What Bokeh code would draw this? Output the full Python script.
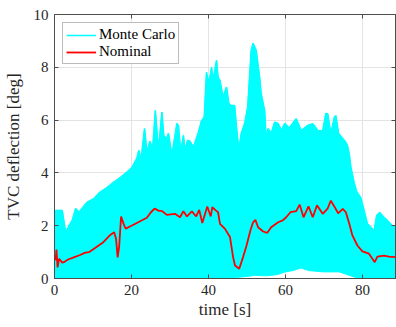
from bokeh.plotting import figure
from bokeh.models import LinearAxis, FixedTicker, Range1d, Legend, CustomLabelingPolicy
from bokeh.embed import file_html
from bokeh.resources import INLINE

# ---- data ----
x_ticks = [0, 20, 40, 60, 80]
y_ticks = [0, 2, 4, 6, 8, 10]

# Monte Carlo envelope (upper)
mc_t_up = [0.0, 0.3, 2.0, 2.9, 3.8, 4.6, 5.5, 6.4, 7.7, 8.5, 10.2, 11.5, 13.2, 15.4, 16.7,
           18.8, 20.1, 21.4, 21.9, 22.5, 23.4, 24.0, 24.8, 25.5, 26.2, 27.0, 27.9, 28.4,
           29.2, 29.6, 30.5, 31.8, 32.2, 32.8, 33.5, 33.9, 34.6, 35.2, 36.1, 37.4, 38.2,
           38.9, 39.5, 40.1, 40.8, 41.2, 42.1, 42.5, 43.0, 43.8, 44.7, 45.3, 46.0, 46.8,
           47.2, 47.9, 48.5, 49.4, 50.2, 51.1, 51.6, 52.4, 53.3, 53.7, 54.6, 55.0, 55.5,
           56.3, 57.2, 58.1, 59.0, 59.8, 61.0, 62.0, 62.8, 64.1, 65.8, 67.1, 68.5, 69.7,
           70.5, 71.0, 71.8, 72.7, 73.1, 73.8, 74.9, 75.5, 76.1, 76.6, 77.0, 77.9, 78.5,
           79.6, 80.4, 81.3, 82.5, 83.0, 83.7, 84.5, 85.6, 86.5, 87.8, 88.6]
mc_upper = [2.5, 2.58, 2.58, 1.75, 2.0, 2.2, 2.65, 2.51, 2.76, 2.89, 3.02, 3.23, 3.4, 3.65, 3.78,
            4.03, 4.2, 4.55, 4.85, 4.5, 5.68, 4.8, 5.2, 4.9, 6.36, 4.85, 6.3, 5.4,
            5.3, 5.5, 4.66, 5.87, 5.8, 4.78, 5.42, 4.85, 5.23, 5.2, 4.97, 5.54, 5.98,
            6.11, 7.81, 7.37, 8.0, 7.5, 8.26, 7.62, 7.5, 6.87, 7.25, 6.62, 6.55, 6.55,
            5.87, 4.85, 5.48, 5.87, 6.49, 8.64, 8.91, 8.64, 7.62, 7.0, 6.36, 5.3, 5.68,
            5.5, 5.92, 5.87, 5.6, 5.88, 5.7, 5.9, 6.05, 5.6, 5.8, 5.86, 5.6, 5.6,
            6.25, 6.24, 5.48, 6.1, 6.17, 5.5, 5.3, 5.2, 5.04, 4.7, 4.22, 3.6, 3.3,
            3.05, 2.6, 2.07, 1.9, 1.75, 2.39, 2.5, 2.32, 2.2, 2.0, 2.0]

# Monte Carlo envelope (lower)
mc_t_low = [0.0, 44.0, 45.0, 48.0, 50.0, 52.0, 55.0, 58.0, 60.0, 62.0, 64.0, 66.0, 70.0,
            74.0, 76.0, 78.0, 80.0, 88.6]
mc_lower = [0.0, 0.0, 0.03, 0.05, 0.08, 0.12, 0.1, 0.15, 0.25, 0.3, 0.4, 0.3, 0.25,
            0.25, 0.15, 0.05, 0.0, 0.0]

# Nominal trajectory
nom_t = [0.0, 0.3, 0.5, 0.8, 1.2, 2.0, 2.5, 3.5, 5.0, 6.5, 8.0, 9.0, 10.0, 11.0, 12.5,
         13.5, 14.5, 15.5, 16.0, 16.4, 16.8, 17.3, 18.0, 18.5, 20.0, 22.0, 24.0, 25.0,
         26.0, 27.0, 28.0, 29.2, 31.3, 32.6, 33.5, 34.4, 35.7, 36.8, 37.6, 38.4, 39.7,
         40.6, 41.0, 41.9, 42.5, 43.0, 44.3, 45.6, 46.4, 46.9, 48.0, 49.0, 49.9, 50.9,
         51.6, 52.2, 52.9, 54.2, 55.3, 56.3, 58.1, 59.3, 60.2, 61.3, 62.8, 63.7, 64.7,
         66.0, 67.1, 68.2, 69.7, 71.0, 71.8, 72.7, 73.7, 74.9, 75.7, 76.6, 77.4, 78.7,
         80.0, 81.7, 82.6, 83.2, 83.9, 85.6, 86.9, 88.6]
nom_v = [0.78, 0.7, 1.1, 0.42, 0.75, 0.6, 0.62, 0.72, 0.8, 0.88, 0.98, 1.0, 1.1, 1.2, 1.35,
         1.5, 1.65, 1.75, 1.5, 0.8, 1.2, 2.35, 2.05, 1.89, 2.0, 2.15, 2.3, 2.5,
         2.65, 2.57, 2.55, 2.41, 2.45, 2.32, 2.55, 2.35, 2.54, 2.35, 2.6, 2.1, 2.73,
         2.35, 2.7, 2.58, 2.51, 2.07, 1.88, 1.57, 0.81, 0.49, 0.37, 0.81, 1.25, 1.82,
         2.13, 2.22, 1.94, 1.78, 1.73, 1.94, 2.13, 2.2, 2.32, 2.51, 2.55, 2.8, 2.32,
         2.73, 2.32, 2.77, 2.45, 2.66, 2.95, 2.73, 2.47, 2.64, 2.51, 2.07, 1.63, 1.25,
         1.03, 0.94, 0.75, 0.62, 0.83, 0.87, 0.83, 0.81]

# ---- styling ----
FONT = "Liberation Serif"
AXC = "#4d4d4d"
CYAN = "#00ffff"
RED = "#ff0000"

p = figure(width=396, height=327, output_backend="svg", toolbar_location=None,
           x_range=Range1d(0, 88.6), y_range=Range1d(0, 10),
           min_border_left=52, min_border_right=1, min_border_top=14, min_border_bottom=49,
           x_axis_label="time [s]", y_axis_label="TVC deflection [deg]")
p.background_fill_color = "white"
p.border_fill_color = "white"
p.outline_line_color = AXC

poly_x = list(mc_t_up) + list(reversed(mc_t_low))
poly_y = list(mc_upper) + list(reversed(mc_lower))
p.patch(poly_x, poly_y, fill_color=CYAN, line_color=CYAN, line_width=1)
mc_line = p.line(mc_t_up, mc_upper, line_color=CYAN, line_width=1.5)
nom_line = p.line(nom_t, nom_v, line_color=RED, line_width=1.8)

for ax in p.xaxis + p.yaxis:
    ax.axis_line_color = AXC
    ax.major_tick_line_color = AXC
    ax.major_tick_in = 4
    ax.major_tick_out = 0
    ax.minor_tick_line_color = None
    ax.major_label_text_font = FONT
    ax.major_label_text_font_size = "15px"
    ax.major_label_text_color = "#262626"
    ax.axis_label_text_font = FONT
    ax.axis_label_text_font_size = "17px"
    ax.axis_label_text_font_style = "normal"
    ax.axis_label_text_color = "#262626"
p.xaxis.ticker = FixedTicker(ticks=x_ticks)
p.yaxis.ticker = FixedTicker(ticks=y_ticks)
p.xaxis.major_label_standoff = 6
p.xaxis.axis_label_standoff = 2
p.yaxis.major_label_standoff = 6
p.yaxis.axis_label_standoff = 8

no_labels = CustomLabelingPolicy(code="""
    for (const i of indices) { indices.unset(i) }
    return indices
""")
for loc, tick in (("right", y_ticks), ("above", x_ticks)):
    a = LinearAxis(ticker=FixedTicker(ticks=tick), major_label_text_font_size="0px",
                   major_label_policy=no_labels,
                   major_label_standoff=0, axis_line_color=AXC, major_tick_line_color=AXC,
                   major_tick_in=4, major_tick_out=0, minor_tick_line_color=None)
    p.add_layout(a, loc)

p.grid.grid_line_color = "#e3e3e3"
p.grid.grid_line_width = 1
p.xgrid.ticker = FixedTicker(ticks=x_ticks)
p.ygrid.ticker = FixedTicker(ticks=y_ticks)

legend = Legend(items=[("Monte Carlo", [mc_line]), ("Nominal", [nom_line])],
                location="top_left", margin=8, padding=3, spacing=0,
                label_text_font=FONT, label_text_font_size="15px",
                label_text_color="#000000", label_height=16, label_standoff=3,
                glyph_width=30, glyph_height=16,
                border_line_color="#7a7a7a", border_line_width=1,
                background_fill_color="white", background_fill_alpha=1)
p.add_layout(legend)

open("out.html", "w").write(file_html(p, INLINE))
